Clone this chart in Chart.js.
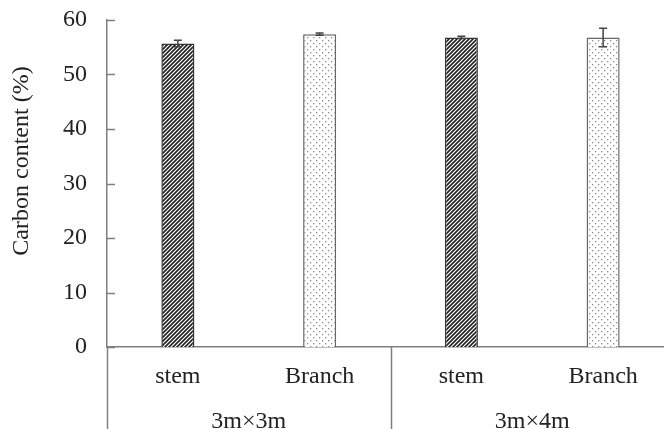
<!DOCTYPE html>
<html>
<head>
<meta charset="utf-8">
<script src="https://cdn.jsdelivr.net/npm/chart.js@4.4.1/dist/chart.umd.min.js"></script>
<style>
  html, body { margin: 0; padding: 0; background: #fff; overflow: hidden; }
  #wrap { width: 674px; height: 429px; }
</style>
</head>
<body>
<div id="wrap"><canvas id="chart" width="674" height="429"></canvas></div>
<script>
const categories = ["stem", "Branch", "stem", "Branch"];
const groups = ["3m×3m", "3m×4m"];
const carbonValues = [55.7, 57.4, 56.8, 56.8];
const carbonErrors = [0.6, 0.2, 0.2, 1.7];
const yTicks = [0, 10, 20, 30, 40, 50, 60];
const yTitle = "Carbon content (%)";

const fontFamily = "'Liberation Serif', 'Times New Roman', serif";
const textColor = "#222";
const axisColor = "#7f7f7f";

function makeHatch() {
  const c = document.createElement("canvas");
  c.width = 4;
  c.height = 4;
  const g = c.getContext("2d");
  g.fillStyle = "#fff";
  g.fillRect(0, 0, 4, 4);
  g.strokeStyle = "#222";
  g.lineWidth = 1.6;
  g.beginPath();
  g.moveTo(-1, 5);
  g.lineTo(5, -1);
  g.moveTo(-1, 1);
  g.lineTo(1, -1);
  g.moveTo(3, 5);
  g.lineTo(5, 3);
  g.stroke();
  return g.createPattern(c, "repeat");
}

function makeDots() {
  const c = document.createElement("canvas");
  c.width = 6;
  c.height = 6;
  const g = c.getContext("2d");
  g.fillStyle = "#fff";
  g.fillRect(0, 0, 6, 6);
  g.fillStyle = "#8a8a8a";
  g.fillRect(1, 1, 1.3, 1.3);
  g.fillRect(4, 4, 1.3, 1.3);
  return g.createPattern(c, "repeat");
}

const hatch = makeHatch();
const dots = makeDots();

// error bars, tick marks inside the axis, group separators and y title
const extras = {
  id: "extras",
  afterDatasetsDraw(chart) {
    const ctx = chart.ctx;
    const y = chart.scales.y;
    const x = chart.scales.x;
    const meta = chart.getDatasetMeta(0);
    const area = chart.chartArea;

    ctx.save();
    ctx.strokeStyle = "#444";
    ctx.lineWidth = 1.5;
    meta.data.forEach((bar, i) => {
      const top = y.getPixelForValue(carbonValues[i] + carbonErrors[i]);
      const bot = y.getPixelForValue(carbonValues[i] - carbonErrors[i]);
      ctx.beginPath();
      ctx.moveTo(bar.x, top);
      ctx.lineTo(bar.x, bot);
      ctx.moveTo(bar.x - 4, top);
      ctx.lineTo(bar.x + 4, top);
      ctx.moveTo(bar.x - 4, bot);
      ctx.lineTo(bar.x + 4, bot);
      ctx.stroke();
    });

    ctx.strokeStyle = axisColor;
    ctx.lineWidth = 1.5;
    yTicks.forEach((t) => {
      const py = Math.round(y.getPixelForValue(t)) + 0.5;
      ctx.beginPath();
      ctx.moveTo(area.left, py);
      ctx.lineTo(area.left + 8, py);
      ctx.stroke();
    });

    const half = (x.getPixelForValue(1) - x.getPixelForValue(0)) / 2;
    const bounds = [x.getPixelForValue(0) - half, x.getPixelForValue(1) + half, x.getPixelForValue(3) + half];
    bounds.forEach((bx) => {
      const px = Math.round(bx) + 0.5;
      ctx.beginPath();
      ctx.moveTo(px, area.bottom);
      ctx.lineTo(px, chart.height);
      ctx.stroke();
    });

    ctx.fillStyle = textColor;
    ctx.font = "24px " + fontFamily;
    ctx.textAlign = "center";
    ctx.textBaseline = "middle";
    ctx.translate(22, 161);
    ctx.rotate(-Math.PI / 2);
    ctx.fillText(yTitle, 0, 0);
    ctx.restore();
  },
};

const ctx = document.getElementById("chart").getContext("2d");
new Chart(ctx, {
  type: "bar",
  data: {
    labels: categories,
    datasets: [
      {
        data: carbonValues,
        backgroundColor: [hatch, dots, hatch, dots],
        borderColor: ["#333", "#666", "#333", "#666"],
        borderWidth: 1.5,
        barPercentage: 0.233,
        categoryPercentage: 1,
      },
    ],
  },
  options: {
    responsive: false,
    animation: false,
    devicePixelRatio: 1,
    layout: { padding: { top: 20, left: 0, right: 0, bottom: 0 } },
    plugins: {
      legend: { display: false },
      tooltip: { enabled: false },
    },
    scales: {
      y: {
        min: 0,
        max: 60,
        afterBuildTicks: (axis) => {
          axis.ticks = yTicks.map((v) => ({ value: v }));
        },
        afterFit: (axis) => {
          axis.width = 107;
          axis.paddingTop = 0;
          axis.paddingBottom = 0;
        },
        grid: { display: false },
        border: { display: true, color: axisColor, width: 1.5 },
        ticks: {
          padding: 12,
          color: textColor,
          font: { family: fontFamily, size: 24 },
        },
      },
      x: {
        weight: 0,
        afterFit: (axis) => {
          axis.height = 40;
          axis.paddingLeft = 0;
          axis.paddingRight = 0;
        },
        grid: { display: false },
        border: { display: true, color: axisColor, width: 1.5 },
        ticks: {
          padding: 7,
          color: textColor,
          font: { family: fontFamily, size: 24 },
        },
      },
      x2: {
        type: "category",
        position: "bottom",
        labels: groups,
        weight: 1,
        afterFit: (axis) => {
          axis.height = 42;
          axis.paddingLeft = 0;
          axis.paddingRight = 0;
        },
        grid: { display: false },
        border: { display: false },
        ticks: {
          padding: 12,
          color: textColor,
          font: { family: fontFamily, size: 24 },
        },
      },
    },
  },
  plugins: [extras],
});
</script>
</body>
</html>
